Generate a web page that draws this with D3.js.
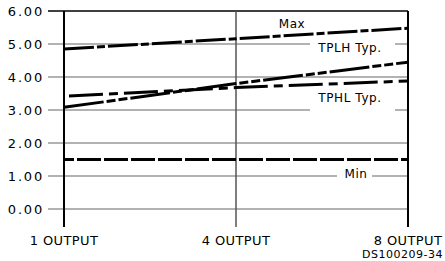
<!DOCTYPE html>
<html>
<head>
<meta charset="utf-8">
<script src="https://cdn.jsdelivr.net/npm/d3@7"></script>
<style>
body { margin: 0; background: #fff; }
text { font-family: "DejaVu Sans", sans-serif; fill: #000; }
</style>
</head>
<body>
<script>
// data
var categories = ["1 OUTPUT", "4 OUTPUT", "8 OUTPUT"]
var maxVals  = [4.85, 5.16, 5.48]
var tplhVals = [3.08, 3.80, 4.45]
var tphlVals = [3.42, 3.68, 3.88]
var minVals  = [1.50, 1.50, 1.50]
var yTicks = [0, 1, 2, 3, 4, 5, 6]
var yTickLabels = ["0.00", "1.00", "2.00", "3.00", "4.00", "5.00", "6.00"]

function plot_it() {
	width = 445
	height = 261
	left = 64
	right = 408
	top_ = 11
	bottom = 209
	axis_end = 227

	var svg = d3.select('body').append('svg').attr('width', width).attr('height', height)

	var x = d3.scalePoint().domain(categories).range([left, right])
	var y = d3.scaleLinear().domain([0, 6]).range([bottom, top_])

	// grid lines + ticks on left
	svg.append('g').attr('id', 'grid').selectAll('line')
		.data(yTicks.filter(function(d){ return d < 6 })).enter().append('line')
		.attr('x1', 48).attr('x2', right)
		.attr('y1', function(d){ return y(d) }).attr('y2', function(d){ return y(d) })
		.attr('stroke', '#666').attr('stroke-width', 1.1)

	// top line of the frame
	svg.append('line').attr('x1', 48).attr('x2', right).attr('y1', y(6)).attr('y2', y(6))
		.attr('stroke', '#000').attr('stroke-width', 1.5)

	// vertical lines at each category
	svg.append('g').attr('id', 'vlines').selectAll('line')
		.data(categories).enter().append('line')
		.attr('x1', function(d){ return x(d) }).attr('x2', function(d){ return x(d) })
		.attr('y1', top_).attr('y2', axis_end)
		.attr('stroke', function(d, i){ return i == 1 ? '#555' : '#000' })
		.attr('stroke-width', function(d, i){ return i == 1 ? 1.5 : 2 })

	// y tick labels
	svg.append('g').attr('id', 'ylabels').selectAll('text')
		.data(yTicks).enter().append('text')
		.attr('x', 44).attr('y', function(d){ return y(d) }).attr('dy', '0.38em')
		.attr('text-anchor', 'end').attr('font-size', 13).attr('letter-spacing', 1.8)
		.text(function(d, i){ return yTickLabels[i] })

	// x labels
	svg.append('g').attr('id', 'xlabels').selectAll('text')
		.data(categories).enter().append('text')
		.attr('x', function(d){ return x(d) }).attr('y', 245)
		.attr('text-anchor', 'middle').attr('font-size', 13).attr('letter-spacing', 0.4)
		.text(function(d){ return d })

	// white gaps in the grid lines behind the labels
	var gaps = [[310, 395, 5], [310, 395, 3], [337, 372, 1]]
	svg.append('g').selectAll('rect').data(gaps).enter().append('rect')
		.attr('x', function(d){ return d[0] }).attr('width', function(d){ return d[1] - d[0] })
		.attr('y', function(d){ return y(d[2]) - 2 }).attr('height', 4)
		.attr('fill', '#fff')

	// series
	var series = [
		{ name: 'Max', vals: maxVals, dash: '30,3,8,3', off: 0 },
		{ name: 'TPLH', vals: tplhVals, dash: '40,3,9,3,9,3', off: 0 },
		{ name: 'TPHL', vals: tphlVals, dash: '34,6,9,6', off: -5 },
		{ name: 'Min', vals: minVals, dash: '24,3', off: 14 }
	]
	var line = d3.line()
		.x(function(d, i){ return x(categories[i]) })
		.y(function(d){ return y(d) })
	svg.append('g').attr('id', 'series').selectAll('path')
		.data(series).enter().append('path')
		.attr('d', function(d){ return line(d.vals) })
		.attr('fill', 'none').attr('stroke', '#000').attr('stroke-width', 3)
		.attr('stroke-dasharray', function(d){ return d.dash })
		.attr('stroke-dashoffset', function(d){ return d.off })

	// annotation labels
	var notes = [["Max", 292, 28], ["TPLH Typ.", 350, 52], ["TPHL Typ.", 350, 102], ["Min", 356, 178]]
	svg.append('g').attr('id', 'notes').selectAll('text')
		.data(notes).enter().append('text')
		.attr('x', function(d){ return d[1] }).attr('y', function(d){ return d[2] })
		.attr('text-anchor', 'middle').attr('font-size', 12).attr('letter-spacing', 0.6)
		.text(function(d){ return d[0] })

	svg.append('text').attr('x', 443).attr('y', 258).attr('text-anchor', 'end')
		.attr('font-family', 'Liberation Sans, Arial, sans-serif').attr('font-size', 11)
		.attr('letter-spacing', 0.5)
		.text('DS100209-34')
}
plot_it()
</script>
</body>
</html>
